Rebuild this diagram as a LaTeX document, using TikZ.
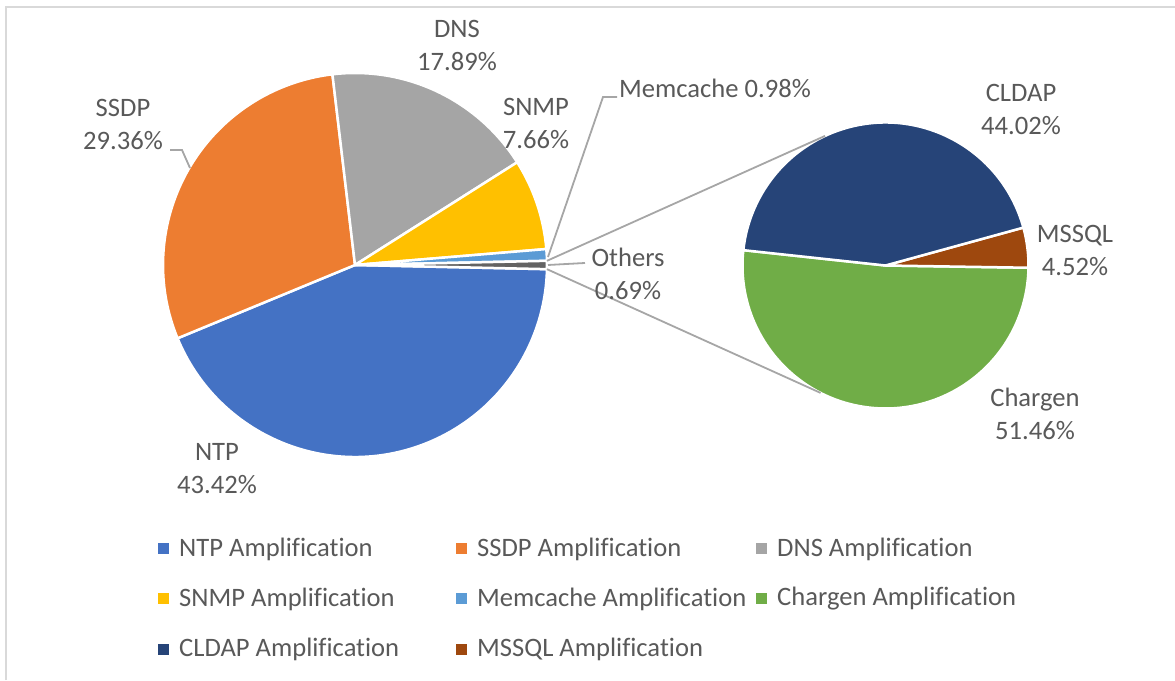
\documentclass[tikz,border=0pt]{standalone}
\usepackage{fontspec}
\setmainfont[Ligatures=NoCommon]{Carlito}
\usetikzlibrary{calc}
\definecolor{cNTP}{HTML}{4472C4}
\definecolor{cSSDP}{HTML}{ED7D31}
\definecolor{cDNS}{HTML}{A5A5A5}
\definecolor{cSNMP}{HTML}{FFC000}
\definecolor{cMEM}{HTML}{5B9BD5}
\definecolor{cCHG}{HTML}{70AD47}
\definecolor{cCLD}{HTML}{264478}
\definecolor{cMSS}{HTML}{9E480E}
\definecolor{cOTH}{HTML}{636363}
\definecolor{txt}{HTML}{595959}
\definecolor{lead}{HTML}{A6A6A6}
\definecolor{frame}{HTML}{D9D9D9}
\begin{document}
\begin{tikzpicture}[x=1pt,y=1pt,
  slice/.style={draw=white, line width=2.5pt, line join=round},
  lbl/.style={inner sep=0pt, align=center, text=txt, font=\fontsize{26.6}{33}\selectfont},
  leader/.style={draw=lead, line width=1.8pt},
  legtext/.style={inner sep=0pt, anchor=west, text=txt, font=\fontsize{26.6}{32}\selectfont},
  legmark/.style={inner sep=0pt, minimum size=11pt, draw=none}]
\useasboundingbox (0,0) rectangle (1175,680);
\draw[frame, line width=2pt] (6,0) -- (6,673) -- (1175,673);
% centres
\coordinate (c1) at (355,415);
\coordinate (c2) at (885.5,414.5);
% main pie
\filldraw[slice, fill=cNTP]  (c1) -- ++(202.446:192) arc[start angle=202.446, end angle=358.758, radius=192] -- cycle;
\filldraw[slice, fill=cSSDP] (c1) -- ++(96.75:192) arc[start angle=96.75, end angle=202.446, radius=192] -- cycle;
\filldraw[slice, fill=cDNS]  (c1) -- ++(32.346:192) arc[start angle=32.346, end angle=96.75, radius=192] -- cycle;
\filldraw[slice, fill=cSNMP] (c1) -- ++(4.77:192) arc[start angle=4.77, end angle=32.346, radius=192] -- cycle;
\filldraw[slice, fill=cMEM]  (c1) -- ++(1.242:192) arc[start angle=1.242, end angle=4.77, radius=192] -- cycle;
\filldraw[slice, fill=cOTH]  (c1) -- ++(-1.242:192) arc[start angle=-1.242, end angle=1.242, radius=192] -- cycle;
% secondary pie
\filldraw[slice, fill=cCHG] (c2) -- ++(173.84:143) arc[start angle=173.84, end angle=359.1, radius=143] -- cycle;
\filldraw[slice, fill=cMSS] (c2) -- ++(-0.9:143) arc[start angle=-0.9, end angle=15.37, radius=143] -- cycle;
\filldraw[slice, fill=cCLD] (c2) -- ++(15.37:143) arc[start angle=15.37, end angle=173.84, radius=143] -- cycle;
% series lines
\coordinate (oU) at ($(c1)+(1.242:192)$);
\coordinate (oL) at ($(c1)+(-1.242:192)$);
\coordinate (tU) at ($(c2)+(115:143)$);
\coordinate (tL) at ($(c2)+(-117:143)$);
\draw[leader] (oU) -- (tU);
\draw[leader] (oL) -- (tL);
% labels
\node[lbl] (dns) at (457,634.5) {DNS\\17.89\%};
\node[lbl] (ssdp) at (123,556) {SSDP\\29.36\%};
\node[lbl] (snmp) at (536,556.5) {SNMP\\7.66\%};
\node[lbl, anchor=west] (mem) at (619,592) {Memcache 0.98\%};
\node[lbl] (oth) at (628,406.5) {Others\\0.69\%};
\node[lbl] (ntp) at (217,211.5) {NTP\\43.42\%};
\node[lbl] (cld) at (1021,571) {CLDAP\\44.02\%};
\node[lbl] (mss) at (1075,430) {MSSQL\\4.52\%};
\node[lbl] (chg) at (1035,266.5) {Chargen\\51.46\%};
% leader lines
\coordinate (ssdpP) at (190,512);
\draw[leader] (ssdpP) -- (182,530) -- (170,530);
\coordinate (memP) at (548,423);
\draw[leader] (memP) -- (603,583) -- (617,583);
\coordinate (othP) at (548,415);
\draw[leader] (othP) -- (585,417);
% legend
\foreach \x/\y/\c/\t/\n in {179/131/cNTP/NTP/a, 477/131/cSSDP/SSDP/b, 777/131/cDNS/DNS/c,
  179/81/cSNMP/SNMP/d, 477/81/cMEM/Memcache/e, 777/81/cCHG/Chargen/f,
  179/31/cCLD/CLDAP/g, 477/31/cMSS/MSSQL/h}{
  \node[legmark, fill=\c] (m\n) at (\x-15.5,\y) {};
  \node[legtext] (l\n) at (\x,\y) {\t\ Amplification};
}
\end{tikzpicture}
\end{document}
